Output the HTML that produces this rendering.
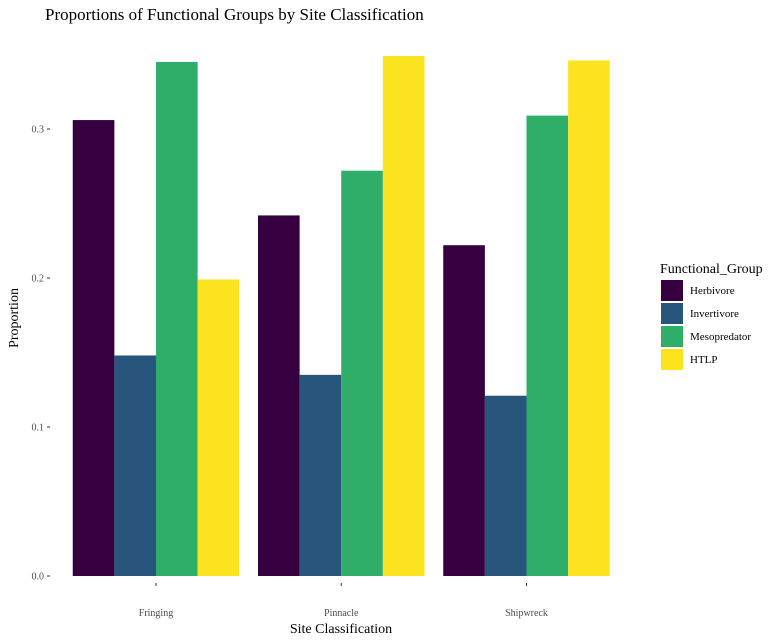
<!DOCTYPE html>
<html><head><meta charset="utf-8"><style>
body{margin:0;background:#fff;}
svg{display:block;font-family:"Liberation Serif",serif;}
</style></head><body>
<svg id="chart" width="782" height="643">
<text x="45" y="20" font-size="17" fill="#000">Proportions of Functional Groups by Site Classification</text>
<g id="yaxis"></g>
<g id="xaxis"></g>
<g id="bars"></g>
<text x="341" y="633" font-size="14" text-anchor="middle">Site Classification</text>
<text transform="translate(18,318) rotate(-90)" font-size="14" text-anchor="middle">Proportion</text>
<g id="legend">
<text x="660" y="273" font-size="14">Functional_Group</text>
</g>
</svg>
<script>
const categories=["Fringing","Pinnacle","Shipwreck"];
const groups=["Herbivore","Invertivore","Mesopredator","HTLP"];
const herbivore=[0.306,0.242,0.222];
const invertivore=[0.148,0.135,0.121];
const mesopredator=[0.345,0.272,0.309];
const htlp=[0.349,0.349,0.346];
htlp[0]=0.199;
const yTicks=[0,0.1,0.2,0.3];
const yTickLabels=["0.0","0.1","0.2","0.3"];
const colors=["#360040","#27557b","#2fae6a","#fbe31f"];
const series=[herbivore,invertivore,mesopredator,htlp];
const NS="http://www.w3.org/2000/svg";
const y0=576, pxPer=1490;
const yScale=v=>y0-v*pxPer;
const xCenter=i=>156+i*185.25;
const band=166.5, bw=band/4;
function mk(tag,attrs,parent){const e=document.createElementNS(NS,tag);for(const k in attrs)e.setAttribute(k,attrs[k]);parent.appendChild(e);return e;}
const ya=document.getElementById('yaxis');
yTicks.forEach((t,i)=>{
 const tx=mk('text',{x:44,y:yScale(t)+3.5,'font-size':10,'text-anchor':'end',fill:'#4d4d4d'},ya);
 
 
 tx.textContent=yTickLabels[i];
 const l=mk('line',{x1:47,x2:50,y1:yScale(t),y2:yScale(t),stroke:'#333'},ya);
 
 
});
const xa=document.getElementById('xaxis');
categories.forEach((c,i)=>{
 const l=mk('line',{x1:xCenter(i),x2:xCenter(i),y1:583,y2:586,stroke:'#333'},xa);
 
 
 const tx=mk('text',{x:xCenter(i),y:616,'font-size':10,'text-anchor':'middle',fill:'#4d4d4d'},xa);
 
 
 tx.textContent=c;
});
const bars=document.getElementById('bars');
categories.forEach((c,i)=>{
 series.forEach((s,j)=>{
  const x=xCenter(i)-band/2+j*bw;
  const r=mk('rect',{x:x,y:yScale(s[i]),width:bw,height:y0-yScale(s[i]),fill:colors[j]},bars);
  
  
 });
});
const lg=document.getElementById('legend');
groups.forEach((g,j)=>{
 const r=mk('rect',{x:661,y:280+j*23,width:22,height:21,fill:colors[j]},lg);
 
 
 const t=mk('text',{x:690,y:294+j*23,'font-size':11},lg);
 
 
 t.textContent=g;
});
</script>
</body></html>
